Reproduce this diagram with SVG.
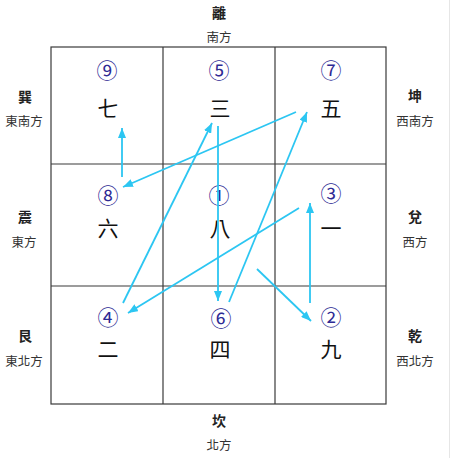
<svg xmlns="http://www.w3.org/2000/svg" width="450" height="458" viewBox="0 0 450 458">
<style>
.grid{fill:none;stroke:#3a3a3a;stroke-width:1.2}
.hd{font-family:"Noto Sans CJK TC","Noto Sans CJK SC",sans-serif;font-size:14px;font-weight:bold;fill:#222;text-anchor:middle;dominant-baseline:central}
.sub{font-family:"Noto Sans CJK TC","Noto Sans CJK SC",sans-serif;font-size:12.5px;fill:#333;text-anchor:middle;dominant-baseline:central}
.cn{font-family:"Noto Sans CJK TC","Noto Sans CJK SC",sans-serif;font-size:21px;fill:#2e2a94;text-anchor:middle;dominant-baseline:central}
.num{font-family:"Noto Sans CJK TC","Noto Sans CJK SC",sans-serif;font-size:21px;fill:#111;text-anchor:middle;dominant-baseline:central}
.arr{stroke:#2cc6f2;stroke-width:1.8;fill:none;marker-end:url(#ah)}
</style>
<defs>
<marker id="ah" markerUnits="userSpaceOnUse" markerWidth="10" markerHeight="8" refX="10" refY="4" orient="auto">
<path d="M0,0 L10,4 L0,8 z" fill="#2cc6f2"/>
</marker>
</defs>
<rect x="0" y="0" width="450" height="458" fill="#ffffff"/>
<line x1="449.5" y1="0" x2="449.5" y2="458" stroke="#e6e6e6" stroke-width="1"/>
<g id="grid">
<rect class="grid" x="51" y="47" width="335" height="357"/>
<line class="grid" x1="163" y1="47" x2="163" y2="404"/>
<line class="grid" x1="275" y1="47" x2="275" y2="404"/>
<line class="grid" x1="51" y1="164" x2="386" y2="164"/>
<line class="grid" x1="51" y1="286" x2="386" y2="286"/>
</g>
<g id="labels">
<g id="label-li"><text class="hd" x="219" y="12">離</text><text class="sub" x="219" y="36">南方</text></g>
<g id="label-xun"><text class="hd" x="25" y="96">巽</text><text class="sub" x="24" y="120">東南方</text></g>
<g id="label-kun"><text class="hd" x="415" y="95">坤</text><text class="sub" x="415" y="120">西南方</text></g>
<g id="label-zhen"><text class="hd" x="25" y="216">震</text><text class="sub" x="24" y="241">東方</text></g>
<g id="label-dui"><text class="hd" x="415" y="216">兌</text><text class="sub" x="415" y="241">西方</text></g>
<g id="label-gen"><text class="hd" x="25" y="335">艮</text><text class="sub" x="24" y="360">東北方</text></g>
<g id="label-qian"><text class="hd" x="415" y="335">乾</text><text class="sub" x="415" y="360">西北方</text></g>
<g id="label-kan"><text class="hd" x="219" y="420">坎</text><text class="sub" x="219" y="444">北方</text></g>
</g>
<g id="cell-se"><text class="cn" x="107" y="69">⑨</text><text class="num" x="108" y="107">七</text></g>
<g id="cell-s"><text class="cn" x="219" y="69">⑤</text><text class="num" x="220" y="107">三</text></g>
<g id="cell-sw"><text class="cn" x="331" y="69">⑦</text><text class="num" x="331" y="107">五</text></g>
<g id="cell-e"><text class="cn" x="108" y="194">⑧</text><text class="num" x="108" y="227">六</text></g>
<g id="cell-c"><text class="cn" x="219" y="194">①</text><text class="num" x="220" y="227">八</text></g>
<g id="cell-w"><text class="cn" x="331" y="192">③</text><text class="num" x="331" y="227">一</text></g>
<g id="cell-ne"><text class="cn" x="108" y="316">④</text><text class="num" x="108" y="348">二</text></g>
<g id="cell-n"><text class="cn" x="221" y="317">⑥</text><text class="num" x="220" y="348">四</text></g>
<g id="cell-nw"><text class="cn" x="331" y="316">②</text><text class="num" x="331" y="348">九</text></g>
<g id="connectors">
<line class="arr" x1="257" y1="269" x2="311" y2="321"/>
<line class="arr" x1="310" y1="303" x2="310" y2="203"/>
<line class="arr" x1="299" y1="208" x2="128" y2="313"/>
<line class="arr" x1="123" y1="303" x2="212" y2="123"/>
<line class="arr" x1="218" y1="126" x2="218" y2="301"/>
<line class="arr" x1="229" y1="302" x2="307" y2="112"/>
<line class="arr" x1="296" y1="112" x2="123" y2="187"/>
<line class="arr" x1="122" y1="177" x2="122" y2="128"/>
</g>
</svg>
